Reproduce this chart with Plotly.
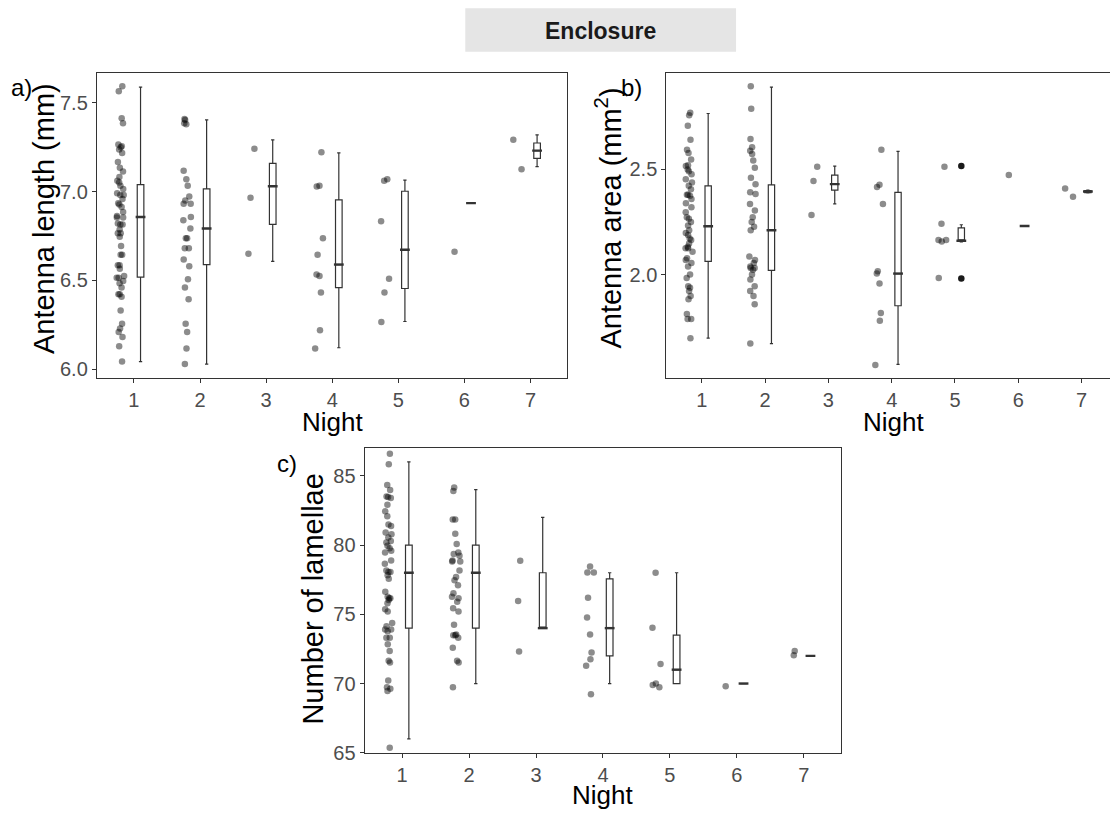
import plotly.graph_objects as go

# page body has an 8px margin: build the figure 8px smaller and map reference pixels accordingly
OFF = 8
W, H = 1118 - OFF, 819 - OFF
NIGHTS = [1, 2, 3, 4, 5, 6, 7]

# ---------------- Panel a: antenna length (mm) ----------------
a_n1 = [7.594, 7.565, 7.413, 7.385, 7.265, 7.255, 7.250, 7.237, 7.218, 7.167, 7.135, 7.113, 7.083,
        7.061, 7.052, 7.033, 7.015, 6.991, 6.981, 6.981, 6.959, 6.935, 6.928, 6.913, 6.885, 6.863,
        6.854, 6.854, 6.820, 6.815, 6.815, 6.787, 6.765, 6.765, 6.746, 6.694, 6.644, 6.644, 6.585,
        6.585, 6.565, 6.524, 6.515, 6.515, 6.496, 6.483, 6.459, 6.422, 6.422, 6.407, 6.330, 6.255,
        6.228, 6.209, 6.181, 6.129, 6.042]
a_n2 = [7.409, 7.404, 7.385, 7.380, 7.117, 7.070, 7.033, 6.972, 6.950, 6.931, 6.931, 6.857, 6.839,
        6.792, 6.737, 6.737, 6.681, 6.681, 6.617, 6.580, 6.506, 6.459, 6.394, 6.255, 6.209, 6.116, 6.028]
a_n3 = [7.241, 6.965, 6.650]
a_n4 = [7.222, 7.033, 7.029, 6.737, 6.644, 6.533, 6.524, 6.431, 6.218, 6.116]
a_n5 = [7.070, 7.061, 6.833, 6.509, 6.431, 6.265]
a_n6 = [6.661]
a_n7 = [7.292, 7.126]
a_q1 = [6.518, 6.589, 6.815, 6.459, 6.454, 6.935, 7.187]
a_med = [6.857, 6.792, 7.030, 6.589, 6.672, 6.935, 7.231]
a_q3 = [7.039, 7.015, 7.159, 6.953, 7.002, 6.935, 7.274]
a_lo = [6.042, 6.028, 6.607, 6.120, 6.268, 6.935, 7.141]
a_hi = [7.589, 7.404, 7.292, 7.218, 7.065, 6.935, 7.320]
a_ticks = [6.0, 6.5, 7.0, 7.5]

# ---------------- Panel b: antenna area (mm2) ----------------
b_n1 = [2.770, 2.758, 2.708, 2.641, 2.594, 2.578, 2.547, 2.520, 2.516, 2.500, 2.492, 2.477, 2.453,
        2.438, 2.422, 2.406, 2.380, 2.380, 2.375, 2.359, 2.339, 2.320, 2.297, 2.273, 2.266, 2.250,
        2.234, 2.211, 2.198, 2.188, 2.172, 2.164, 2.148, 2.133, 2.125, 2.125, 2.109, 2.078, 2.070,
        2.055, 2.039, 2.000, 1.984, 1.945, 1.938, 1.922, 1.898, 1.883, 1.813, 1.789, 1.789, 1.698]
b_n2 = [2.895, 2.789, 2.645, 2.605, 2.589, 2.573, 2.542, 2.508, 2.461, 2.430, 2.391, 2.383, 2.336,
        2.305, 2.273, 2.250, 2.227, 2.211, 2.086, 2.070, 2.055, 2.039, 2.031, 2.031, 2.023, 2.000,
        1.977, 1.945, 1.922, 1.898, 1.859, 1.672]
b_n3 = [2.513, 2.445, 2.284]
b_n4 = [2.594, 2.427, 2.417, 2.336, 2.016, 2.005, 1.958, 1.817, 1.781, 1.570]
b_n5 = [2.513, 2.242, 2.164, 2.164, 2.158, 1.984]
b_n6 = [2.473]
b_n7 = [2.409, 2.370]
b_q1 = [2.063, 2.020, 2.402, 1.852, 2.161, 2.231, 2.390]
b_med = [2.230, 2.211, 2.430, 2.005, 2.161, 2.231, 2.395]
b_q3 = [2.422, 2.427, 2.473, 2.391, 2.222, 2.231, 2.400]
b_lo = [1.698, 1.672, 2.336, 1.573, 2.155, 2.231, 2.388]
b_hi = [2.766, 2.891, 2.516, 2.586, 2.237, 2.231, 2.402]
b_out_night = [5, 5]
b_out_vals = [2.516, 1.981]
b_ticks = [2.0, 2.5]

# ---------------- Panel c: number of lamellae ----------------
c_n1 = [86.59, 85.83, 84.34, 83.98, 83.51, 83.46, 83.39, 82.91, 82.44, 82.08, 81.49, 81.37, 80.90,
        80.78, 80.54, 80.30, 80.18, 79.94, 79.76, 79.59, 79.47, 78.88, 78.64, 78.17, 78.05, 78.05,
        77.81, 77.57, 76.63, 76.27, 76.15, 76.15, 76.03, 75.79, 75.37, 75.20, 74.37, 74.13, 73.90,
        73.90, 73.78, 73.30, 73.30, 72.83, 72.35, 71.64, 71.52, 70.22, 69.74, 69.63, 69.46, 65.36]
c_n2 = [84.15, 83.91, 81.84, 81.84, 80.82, 80.07, 79.47, 79.35, 79.23, 78.88, 78.81, 78.81, 78.17,
        77.69, 77.46, 77.10, 76.51, 76.27, 76.15, 75.91, 75.44, 75.20, 74.25, 73.54, 73.49, 73.49,
        73.30, 72.59, 71.64, 71.52, 69.74]
c_n3 = [78.86, 75.96, 72.31]
c_n4 = [78.45, 78.02, 78.02, 76.20, 74.77, 73.54, 72.24, 71.76, 71.29, 69.22]
c_n5 = [78.00, 74.02, 71.41, 70.00, 69.90, 69.74]
c_n6 = [69.80]
c_n7 = [72.35, 72.05]
c_q1 = [74, 74, 74, 72, 70, 70, 72]
c_med = [78, 78, 74, 74, 71, 70, 72]
c_q3 = [80, 80, 78, 77.55, 73.5, 70, 72]
c_lo = [66, 70, 74, 70, 70, 70, 72]
c_hi = [86, 84, 82, 78, 78, 70, 72]
c_ticks = [65, 70, 75, 80, 85]

FONT = "Liberation Sans, Arial, sans-serif"
PT_OFF = -0.2
BOX_OFF = 0.1

fig = go.Figure()


def add_panel(groups, q1, med, q3, lo, hi, xa, ya):
    xs, ys = [], []
    for night, vals in zip(NIGHTS, groups):
        xs += [night + PT_OFF] * len(vals)
        ys += vals
    # jittered points (plotly's own jitter), invisible box
    fig.add_trace(go.Box(
        x=xs, y=ys, xaxis=xa, yaxis=ya, boxpoints="all", jitter=0.85, pointpos=0,
        width=0.16, fillcolor="rgba(0,0,0,0)", line=dict(width=0, color="rgba(0,0,0,0)"),
        marker=dict(color="rgba(0,0,0,0.45)", size=6.5, line=dict(width=0)),
        showlegend=False, hoverinfo="y"))
    bx = [n + BOX_OFF for n in NIGHTS]
    fig.add_trace(go.Box(
        x=bx, q1=q1, median=med, q3=q3,
        lowerfence=lo, upperfence=hi, xaxis=xa, yaxis=ya, boxpoints=False,
        width=0.1, fillcolor="white", line=dict(color="#333333", width=1.2),
        showlegend=False))
    # thicker median bar, as in ggplot
    fig.add_trace(go.Scatter(
        x=bx, y=med, xaxis=xa, yaxis=ya, mode="markers",
        marker=dict(symbol="line-ew", size=7, line=dict(width=2.4, color="#333333")),
        showlegend=False, hoverinfo="skip"))


add_panel([a_n1, a_n2, a_n3, a_n4, a_n5, a_n6, a_n7], a_q1, a_med, a_q3, a_lo, a_hi, "x", "y")
add_panel([b_n1, b_n2, b_n3, b_n4, b_n5, b_n6, b_n7], b_q1, b_med, b_q3, b_lo, b_hi, "x2", "y2")
add_panel([c_n1, c_n2, c_n3, c_n4, c_n5, c_n6, c_n7], c_q1, c_med, c_q3, c_lo, c_hi, "x3", "y3")

# outliers of panel b, night 5
fig.add_trace(go.Scatter(
    x=[n + BOX_OFF for n in b_out_night], y=b_out_vals, xaxis="x2", yaxis="y2", mode="markers",
    marker=dict(color="#1a1a1a", size=6.5), showlegend=False))


def px_x(p):
    return (p - OFF) / W


def px_y(p):
    return 1 - (p - OFF) / H


axis_common = dict(showline=True, mirror=True, linecolor="#333333", linewidth=1.2,
                   ticks="outside", ticklen=4, tickcolor="#333333", tickwidth=1,
                   showgrid=False, zeroline=False,
                   tickfont=dict(family=FONT, size=20, color="#4d4d4d"))

xr = [0.44, 7.56]
fig.update_layout(
    width=W, height=H, margin=dict(l=0, r=0, t=0, b=0),
    plot_bgcolor="white", paper_bgcolor="white", boxmode="overlay",
    font=dict(family=FONT),
    xaxis=dict(domain=[px_x(97), px_x(568)], range=xr, tickvals=NIGHTS, anchor="y", **axis_common),
    yaxis=dict(domain=[px_y(383), px_y(74)], range=[5.95, 7.668], tickvals=a_ticks,
               tickformat=".1f", anchor="x", **axis_common),
    xaxis2=dict(domain=[px_x(667), 1.0], range=xr, tickvals=NIGHTS, anchor="y2", **axis_common),
    yaxis2=dict(domain=[px_y(383), px_y(74)], range=[1.509, 2.958], tickvals=b_ticks,
                tickformat=".1f", anchor="x2", **axis_common),
    xaxis3=dict(domain=[px_x(365), px_x(842)], range=xr, tickvals=NIGHTS, anchor="y3", **axis_common),
    yaxis3=dict(domain=[px_y(763.3), px_y(454)], range=[64.98, 87.01], tickvals=c_ticks,
                anchor="x3", **axis_common),
)

# strip
fig.add_shape(type="rect", xref="paper", yref="paper",
              x0=px_x(465.7), x1=px_x(736.7), y0=px_y(52.3), y1=px_y(8.3),
              fillcolor="#e5e5e5", line=dict(width=0), layer="below")

annots = [
    dict(text="<b>Enclosure</b>", x=px_x(601), y=px_y(31), size=23, color="#1a1a1a", angle=0),
    dict(text="a)", x=px_x(22), y=px_y(89), size=24, color="black", angle=0),
    dict(text="b)", x=px_x(632), y=px_y(89), size=24, color="black", angle=0),
    dict(text="c)", x=px_x(287), y=px_y(470), size=24, color="black", angle=0),
    dict(text="Antenna length (mm)", x=px_x(44), y=px_y(221), size=29, color="black", angle=-90),
    dict(text="Antenna area (mm<sup>2</sup>)", x=px_x(609), y=px_y(221), size=29, color="black", angle=-90),
    dict(text="Number of lamellae", x=px_x(313), y=px_y(607), size=29, color="black", angle=-90),
    dict(text="Night", x=px_x(332.5), y=px_y(428), size=26, color="black", angle=0),
    dict(text="Night", x=px_x(894), y=px_y(428), size=26, color="black", angle=0),
    dict(text="Night", x=px_x(603), y=px_y(806), size=26, color="black", angle=0),
]
for a in annots:
    fig.add_annotation(text=a["text"], x=a["x"], y=a["y"], xref="paper", yref="paper",
                       showarrow=False, textangle=a["angle"], xanchor="center", yanchor="middle",
                       font=dict(family=FONT, size=a["size"], color=a["color"]))

fig.write_html("out.html")
